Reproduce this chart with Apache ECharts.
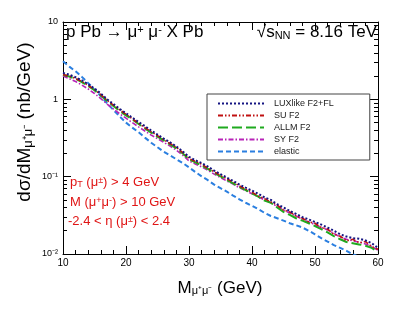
<!DOCTYPE html>
<html><head><meta charset="utf-8">
<script src="https://cdn.jsdelivr.net/npm/echarts@6/dist/echarts.min.js"></script>
<style>html,body{margin:0;padding:0;background:#fff}#c{width:407px;height:312px}</style>
</head><body><div id="c"></div>
<script>
const masses = [10,11,12,13,14,15,16,17,18,19,20,21,22,23,24,25,26,27,28,29,30,31,32,33,34,35,36,37,38,39,40,41,42,43,44,45,46,47,48,49,50,51,52,53,54,55,56,57,58,59,60];
const luxlike = [2.2,2.08,1.93,1.76,1.57,1.38,1.19,1.0,0.87,0.75,0.66,0.58,0.51,0.45,0.395,0.35,0.31,0.278,0.245,0.212,0.18,0.163,0.15,0.135,0.12,0.108,0.097,0.088,0.079,0.072,0.066,0.06,0.054,0.05,0.044,0.04,0.036,0.033,0.03,0.028,0.026,0.024,0.022,0.02,0.018,0.0168,0.016,0.0158,0.015,0.0138,0.012];
const suF2 = [2.1,2.0,1.86,1.7,1.52,1.34,1.15,0.97,0.84,0.73,0.64,0.56,0.49,0.43,0.38,0.34,0.3,0.268,0.24,0.205,0.172,0.158,0.145,0.128,0.116,0.103,0.094,0.085,0.076,0.069,0.063,0.056,0.052,0.047,0.043,0.037,0.035,0.031,0.029,0.026,0.025,0.022,0.021,0.018,0.017,0.0148,0.0155,0.014,0.0145,0.0125,0.0115];
const allmF2 = [2.07,1.97,1.84,1.67,1.49,1.31,1.12,0.95,0.82,0.71,0.62,0.55,0.48,0.42,0.37,0.33,0.295,0.262,0.232,0.2,0.168,0.153,0.14,0.126,0.112,0.101,0.091,0.082,0.074,0.067,0.061,0.055,0.049,0.046,0.04,0.035,0.032,0.029,0.027,0.025,0.023,0.021,0.019,0.017,0.0155,0.0143,0.0138,0.0133,0.0128,0.012,0.0107];
const syF2 = [2.0,1.85,1.7,1.53,1.36,1.19,1.02,0.87,0.75,0.65,0.57,0.5,0.44,0.39,0.345,0.31,0.278,0.248,0.22,0.19,0.16,0.146,0.134,0.121,0.108,0.097,0.088,0.08,0.072,0.066,0.06,0.055,0.05,0.046,0.041,0.037,0.034,0.031,0.028,0.026,0.024,0.022,0.0205,0.0185,0.0165,0.0155,0.0148,0.0142,0.0135,0.0125,0.0112];
const elastic = [3.1,2.65,2.3,1.95,1.62,1.33,1.1,0.89,0.73,0.6,0.5,0.43,0.375,0.32,0.275,0.24,0.21,0.188,0.168,0.15,0.132,0.115,0.101,0.09,0.079,0.071,0.064,0.057,0.051,0.046,0.042,0.038,0.034,0.031,0.029,0.027,0.025,0.0235,0.022,0.02,0.018,0.016,0.0145,0.013,0.012,0.011,0.0099,0.0092,0.0087,0.0083,0.008];
const seriesNames = ['LUXlike F2+FL','SU F2','ALLM F2','SY F2','elastic'];
const yMajorLabels = {'-2':'10⁻²','-1':'10⁻¹','0':'1','1':'10'};
const yMinorTicks = [0.02,0.03,0.04,0.05,0.06,0.07,0.08,0.09,0.2,0.3,0.4,0.5,0.6,0.7,0.8,0.9,2,3,4,5,6,7,8,9];

const FONT = '"Liberation Sans", Arial, Helvetica, sans-serif';
const chart = echarts.init(document.getElementById('c'));
const pair = arr => masses.map((m, i) => [m, arr[i]]);

const xBase = {
  type: 'value', min: 10, max: 60, interval: 10,
  splitLine: {show: false},
  axisLine: {lineStyle: {color: '#000', width: 1}},
  axisTick: {inside: true, length: 8, lineStyle: {color: '#000'}},
  minorTick: {show: true, splitNumber: 5, length: 4, lineStyle: {color: '#000'}},
  minorSplitLine: {show: false}
};
const yBase = {
  type: 'log', logBase: 10, min: 0.01, max: 10,
  splitLine: {show: false},
  axisLine: {show: true, lineStyle: {color: '#000', width: 1}},
  axisTick: {inside: true, length: 8, lineStyle: {color: '#000'}},
  axisLabel: {show: false}
};
const yMinor = {
  type: 'log', logBase: 10, min: 0.01, max: 10,
  splitLine: {show: false},
  axisLine: {show: false},
  axisTick: {inside: true, length: 4, customValues: yMinorTicks, lineStyle: {color: '#000'}},
  axisLabel: {show: false}
};

const styles = [
  {color: '#141482', type: [2, 2], width: 2},
  {color: '#c01010', type: [5, 2, 1.5, 2, 1.5, 2], width: 1.6},
  {color: '#1faa1f', type: [10, 4], width: 2},
  {color: '#b823b8', type: [5, 2, 1.5, 2], width: 1.6},
  {color: '#2b7fe0', type: [5, 3], width: 2}
];
const dataSets = [luxlike, suF2, allmF2, syF2, elastic];
const zOrder = [5, 4, 3, 2, 1];
const RED = '#e01515';
const supR = {fontSize: 9, fontFamily: FONT, verticalAlign: 'top', lineHeight: 8, fill: RED};
const subR = {fontSize: 9, fontFamily: FONT, verticalAlign: 'bottom', lineHeight: 8, fill: RED};

const option = {
  animation: false,
  grid: {left: 63, right: 29, top: 22, bottom: 58},
  xAxis: [
    Object.assign({}, xBase, {position: 'bottom', axisLabel: {fontSize: 10, color: '#000', margin: 4, fontFamily: FONT}}),
    Object.assign({}, xBase, {position: 'top', axisLabel: {show: false}})
  ],
  yAxis: [
    Object.assign({}, yBase, {position: 'left', axisLabel: {show: true, fontSize: 9, color: '#000', margin: 5, fontFamily: FONT,
      formatter: v => yMajorLabels[String(Math.round(Math.log10(v)))] || ''}}),
    Object.assign({}, yMinor, {position: 'left'}),
    Object.assign({}, yBase, {position: 'right'}),
    Object.assign({}, yMinor, {position: 'right'})
  ],
  legend: {
    orient: 'vertical', left: 207, top: 94,
    data: seriesNames,
    itemWidth: 46, itemHeight: 8, itemGap: 3,
    padding: [5, 36, 4, 10],
    itemStyle: {opacity: 0, borderWidth: 0},
    backgroundColor: '#fff', borderColor: '#444', borderWidth: 1, borderRadius: 0,
    textStyle: {fontSize: 9, color: '#222', fontFamily: FONT, padding: [0, 0, 0, 5]},
    selectedMode: false
  },
  series: seriesNames.map((n, i) => ({
    name: n, type: 'line', data: pair(dataSets[i]), xAxisIndex: 0, yAxisIndex: 0,
    showSymbol: false, symbol: 'none', smooth: false, clip: true, z: zOrder[i],
    lineStyle: styles[i], itemStyle: {color: styles[i].color}
  })),
  graphic: [
    {type: 'text', left: 66, top: 24, z: 10, style: {
      text: 'p Pb → μ{sup|+} μ{sup|-} X Pb', font: '17px ' + FONT, fill: '#000',
      rich: {sup: {fontSize: 11, fontFamily: FONT, verticalAlign: 'top', lineHeight: 10, fill: '#000'}}}},
    {type: 'text', right: 30, top: 24, z: 10, style: {
      text: '√s{sub|NN} = 8.16 TeV', font: '17px ' + FONT, fill: '#000',
      rich: {sub: {fontSize: 11, fontFamily: FONT, verticalAlign: 'bottom', lineHeight: 10, fill: '#000'}}}},
    {type: 'text', left: 70, top: 176, z: 10, style: {
      text: 'p{sub|T} (μ{sup|±}) > 4 GeV', font: '13px ' + FONT, fill: RED, rich: {sub: subR, sup: supR}}},
    {type: 'text', left: 70, top: 196, z: 10, style: {
      text: 'M (μ{sup|+}μ{sup|-}) > 10 GeV', font: '13px ' + FONT, fill: RED, rich: {sup: supR}}},
    {type: 'text', left: 68, top: 215, z: 10, style: {
      text: '-2.4 < η (μ{sup|±}) < 2.4', font: '13px ' + FONT, fill: RED, rich: {sup: supR}}},
    {type: 'text', x: 220, y: 288, z: 10, style: {
      text: 'M{sub|μ⁺μ⁻} (GeV)', font: '17px ' + FONT, fill: '#000', align: 'center', verticalAlign: 'middle',
      rich: {sub: {fontSize: 11, fontFamily: FONT, verticalAlign: 'bottom', lineHeight: 10, fill: '#000'}}}},
    {type: 'text', x: 25, y: 122, rotation: Math.PI / 2, z: 10, style: {
      text: 'dσ/dM{sub|μ⁺μ⁻} (nb/GeV)', font: '19px ' + FONT, fill: '#000', align: 'center', verticalAlign: 'middle',
      rich: {sub: {fontSize: 13, fontFamily: FONT, verticalAlign: 'bottom', lineHeight: 12, fill: '#000'}}}}
  ]
};
chart.setOption(option);
</script>
</body></html>
